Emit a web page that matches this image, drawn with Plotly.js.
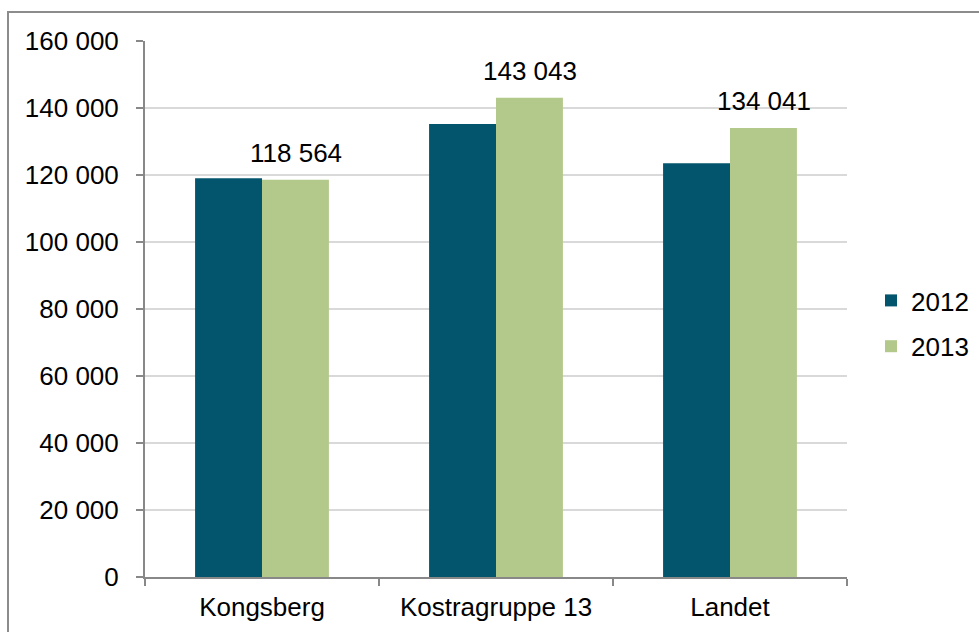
<!DOCTYPE html>
<html>
<head>
<meta charset="utf-8">
<script src="https://cdn.plot.ly/plotly-3.0.1.min.js"></script>
<style>
  html, body { margin: 0; padding: 0; background: #fff; }
  #wrap { position: relative; width: 979px; height: 632px; overflow: hidden; }
  #chart { position: absolute; left: 0; top: 0; width: 979px; height: 632px; }
  #frame { position: absolute; left: 7px; top: 11px; width: 1200px; height: 1200px;
           border: 2px solid #8c8c8c; pointer-events: none; box-sizing: border-box; }
</style>
</head>
<body>
<div id="wrap">
  <div id="chart"></div>
  <div id="frame"></div>
</div>
<script>
// Categories and yearly values
const categories = ['Kongsberg', 'Kostragruppe 13', 'Landet'];
const values2012 = [119000, 135200, 123500];
const values2013 = [118564, 143043, 134041];
const seriesNames = ['2012', '2013'];
const yTickVals = [0, 20000, 40000, 60000, 80000, 100000, 120000, 140000, 160000];

const font = 'Liberation Sans, Arial, sans-serif';
const fs = 26;
const fmt = v => String(v).replace(/\B(?=(\d{3})+(?!\d))/g, ' ');

const traces = [
  {
    type: 'bar', name: seriesNames[0], x: categories, y: values2012,
    marker: { color: '#02556d' }, legendgroup: 'a', hoverinfo: 'none'
  },
  {
    type: 'bar', name: seriesNames[1], x: categories, y: values2013,
    marker: { color: '#b3c98b' }, legendgroup: 'b', hoverinfo: 'none'
  }
];

// Value labels above the 2013 bars, offset to the right-hand bar of each group
const annotations = categories.map((c, i) => ({
  x: c, y: values2013[i], xref: 'x', yref: 'y',
  text: fmt(values2013[i]), showarrow: false,
  xanchor: 'center', yanchor: 'bottom', xshift: 33.5, yshift: 10,
  font: { family: font, size: fs, color: '#000' }
}));

const layout = {
  width: 979, height: 632,
  margin: { l: 145, r: 132, t: 41, b: 55 },
  paper_bgcolor: '#fff', plot_bgcolor: '#fff',
  font: { family: font, size: fs, color: '#000' },
  barmode: 'group', bargap: 0.428, bargroupgap: 0,
  showlegend: true,
  legend: {
    xref: 'container', yref: 'container',
    x: 871 / 979, y: 1 - 323.5 / 632, xanchor: 'left', yanchor: 'middle',
    font: { family: font, size: fs, color: '#000' },
    traceorder: 'grouped', tracegroupgap: 9, itemwidth: 30
  },
  xaxis: {
    type: 'category', showgrid: false, showline: true, linecolor: '#888', linewidth: 2,
    ticks: 'outside', tickson: 'boundaries', ticklen: 7, tickcolor: '#888', tickwidth: 2,
    tickfont: { family: font, size: fs, color: '#000' }, ticklabelstandoff: 6,
    fixedrange: true
  },
  yaxis: {
    range: [0, 160000], tickvals: yTickVals, ticktext: yTickVals.map(fmt),
    showgrid: true, gridcolor: '#d9d9d9', gridwidth: 2, zeroline: false,
    showline: true, linecolor: '#888', linewidth: 2,
    ticks: 'outside', ticklen: 7, tickcolor: '#888', tickwidth: 2,
    tickfont: { family: font, size: fs, color: '#000' }, ticklabelstandoff: 12,
    fixedrange: true
  },
  annotations: annotations
};

Plotly.newPlot('chart', traces, layout, { displayModeBar: false, staticPlot: true });
</script>
</body>
</html>
